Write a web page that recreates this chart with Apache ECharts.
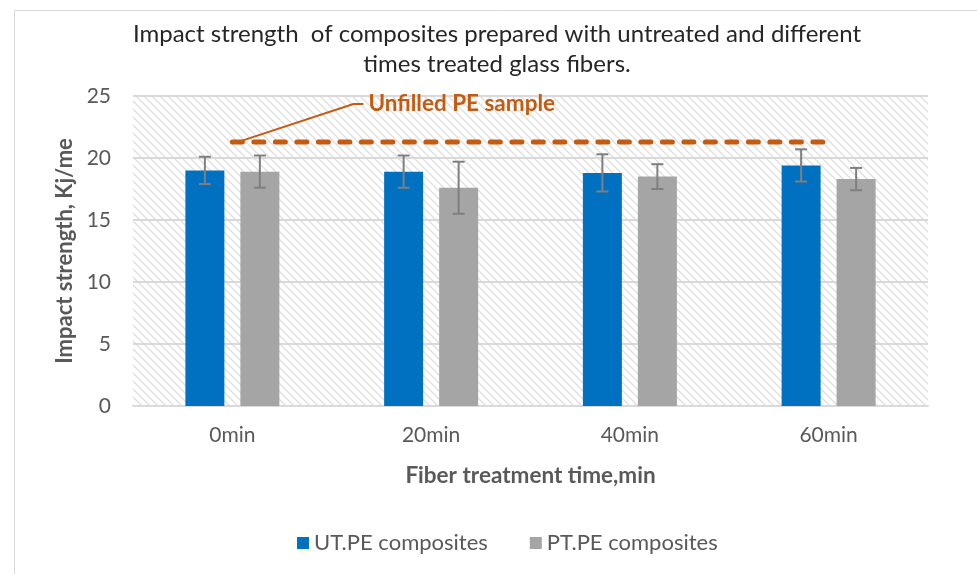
<!DOCTYPE html>
<html>
<head>
<meta charset="utf-8">
<script src="https://cdn.jsdelivr.net/npm/echarts@6/dist/echarts.min.js"></script>
<style>html,body{margin:0;padding:0;background:#fff}#c{width:977px;height:574px}</style>
</head>
<body>
<div id="c"></div>
<script>
const categories = ['0min', '20min', '40min', '60min'];
const utValues = [19.0, 18.9, 18.8, 19.4];
const utErrors = [1.1, 1.3, 1.5, 1.3];
const ptValues = [18.9, 17.6, 18.5, 18.3];
const ptErrors = [1.3, 2.1, 1.0, 0.9];
const unfilledPE = 21.3;
const unfilledLabel = 'Unfilled PE sample';
const yTicks = [0, 5, 10, 15, 20, 25];

const FONT = 'Lato, "Open Sans", sans-serif';
const ORANGE = '#C55A11';
const BAR_W = 39, BAR_GAP = 16;

// hatch pattern
const pc = document.createElement('canvas');
pc.width = 8; pc.height = 8;
const g = pc.getContext('2d');
g.fillStyle = '#ffffff'; g.fillRect(0, 0, 8, 8);
g.strokeStyle = '#e0e0e0'; g.lineWidth = 1.5;
g.beginPath();
g.moveTo(-2, -2); g.lineTo(10, 10);
g.moveTo(-10, -2); g.lineTo(2, 10);
g.moveTo(6, -2); g.lineTo(18, 10);
g.stroke();

function errSeries(name, values, errors, side) {
  return {
    type: 'custom',
    name: name + ' err',
    z: 5,
    data: values.map((v, i) => [i, v - errors[i], v + errors[i]]),
    renderItem: function (params, api) {
      const lo = api.coord([api.value(0), api.value(1)]);
      const hi = api.coord([api.value(0), api.value(2)]);
      const x = lo[0] + side * (BAR_W / 2 + BAR_GAP / 2);
      const cap = 6;
      const st = { stroke: '#7f7f7f', lineWidth: 2, fill: null };
      return {
        type: 'group',
        children: [
          { type: 'line', shape: { x1: x, y1: hi[1], x2: x, y2: lo[1] }, style: st },
          { type: 'line', shape: { x1: x - cap, y1: hi[1], x2: x + cap, y2: hi[1] }, style: st },
          { type: 'line', shape: { x1: x - cap, y1: lo[1], x2: x + cap, y2: lo[1] }, style: st }
        ]
      };
    }
  };
}

const chart = echarts.init(document.getElementById('c'), null, { renderer: 'canvas' });
const option = {
  animation: false,
  backgroundColor: '#ffffff',
  textStyle: { fontFamily: FONT },
  title: {
    text: 'Impact strength  of composites prepared with untreated and different\ntimes treated glass fibers.',
    left: 492, top: 14, textAlign: 'center',
    textStyle: { fontFamily: FONT, fontSize: 24, fontWeight: 'normal', color: '#262626', lineHeight: 30 }
  },
  legend: {
    data: ['UT.PE composites', 'PT.PE composites'],
    left: 292, top: 527,
    icon: 'rect', itemWidth: 12, itemHeight: 12, itemGap: 42,
    textStyle: { fontFamily: FONT, fontSize: 22, color: '#595959' }
  },
  grid: {
    left: 133, right: 49, top: 96, bottom: 168,
    show: true, borderWidth: 0,
    backgroundColor: { image: pc, repeat: 'repeat' }
  },
  xAxis: {
    type: 'category',
    data: categories,
    axisTick: { show: false },
    axisLine: { lineStyle: { color: '#d9d9d9', width: 2 } },
    axisLabel: { fontFamily: FONT, fontSize: 21, color: '#595959', margin: 19 },
    name: 'Fiber treatment time,min',
    nameLocation: 'middle', nameGap: 58,
    nameTextStyle: { fontFamily: FONT, fontSize: 22.5, fontWeight: 'bold', color: '#595959' }
  },
  yAxis: {
    type: 'value', min: 0, max: 25, interval: 5,
    axisLine: { show: false }, axisTick: { show: false },
    splitLine: { lineStyle: { color: '#d9d9d9', width: 2 } },
    axisLabel: { fontFamily: FONT, fontSize: 21, color: '#595959', margin: 22,
      formatter: v => yTicks.includes(v) ? String(v) : '' },
    name: 'Impact strength, Kj/me',
    nameLocation: 'middle', nameGap: 56,
    nameTextStyle: { fontFamily: FONT, fontSize: 22, fontWeight: 'bold', color: '#595959' }
  },
  series: [
    { type: 'bar', name: 'UT.PE composites', data: utValues, barWidth: BAR_W, barGap: (BAR_GAP / BAR_W * 100) + '%',
      itemStyle: { color: '#0070C0' }, z: 3 },
    { type: 'bar', name: 'PT.PE composites', data: ptValues, barWidth: BAR_W,
      itemStyle: { color: '#A5A5A5' }, z: 3 },
    errSeries('UT', utValues, utErrors, -1),
    errSeries('PT', ptValues, ptErrors, 1),
    { type: 'line', name: unfilledLabel, data: categories.map(() => unfilledPE), symbol: 'none', z: 4,
      lineStyle: { color: ORANGE, width: 5, type: [10, 11.5], cap: 'round' } }
  ]
};
chart.setOption(option);

// annotation for the unfilled PE line
const anchor = chart.convertToPixel({ seriesIndex: 0 }, [0, unfilledPE]);
const textPt = chart.convertToPixel({ seriesIndex: 0 }, [0, 24.35]);
const ax = anchor[0] + 9, ay = anchor[1] - 1;
const tx = ax + 112, ty = textPt[1];
chart.setOption({
  graphic: [
    { type: 'rect', shape: { x: 14.5, y: 10.5, width: 1000, height: 700 },
      style: { stroke: '#d9d9d9', fill: null, lineWidth: 1 }, z: -1, silent: true },
    { type: 'polyline', shape: { points: [[ax, ay], [tx, ty], [tx + 10, ty]] },
      style: { stroke: ORANGE, lineWidth: 2, fill: null }, z: 10 },
    { type: 'text', x: tx + 15, y: ty, style: { text: unfilledLabel, fill: ORANGE,
      font: 'bold 22.5px ' + FONT, textVerticalAlign: 'middle', verticalAlign: 'middle' }, z: 10 }
  ]
});
</script>
</body>
</html>
